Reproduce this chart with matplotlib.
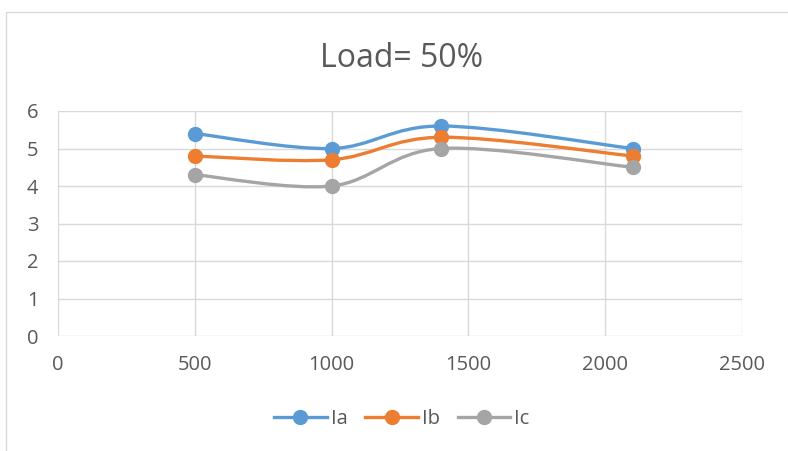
import numpy as np
import matplotlib.pyplot as plt
from matplotlib.path import Path
from matplotlib.patches import PathPatch, Rectangle
from matplotlib.lines import Line2D

plt.rcParams["font.family"] = ["Open Sans", "DejaVu Sans"]

speed = [500, 1000, 1400, 2100]
ia = [5.4, 5.0, 5.6, 5.0]
ib = [4.8, 4.7, 5.3, 4.8]
ic = [4.3, 4.0, 5.0, 4.5]

series = [("Ia", ia, "#5b9bd5"), ("Ib", ib, "#ed7d31"), ("Ic", ic, "#a5a5a5")]
text_col = "#595959"
grid_col = "#d9d9d9"


def smooth_path(x, y):
    # cubic bezier through the points, catmull-rom style control points
    pts = np.column_stack([x, y]).astype(float)
    n = len(pts)
    verts = [pts[0]]
    codes = [Path.MOVETO]
    for i in range(n - 1):
        p0 = pts[max(i - 1, 0)]
        p1 = pts[i]
        p2 = pts[i + 1]
        p3 = pts[min(i + 2, n - 1)]
        c1 = p1 + (p2 - p0) / 6.0
        c2 = p2 - (p3 - p1) / 6.0
        verts += [c1, c2, p2]
        codes += [Path.CURVE4] * 3
    return Path(verts, codes)


fig = plt.figure(figsize=(7.88, 4.51), dpi=100)
ax = fig.add_axes([58 / 788, 115 / 451, 684 / 788, 225 / 451])

for name, vals, col in series:
    ax.add_patch(PathPatch(smooth_path(speed, vals), fill=False, edgecolor=col,
                           lw=2.4, capstyle="round", zorder=3))
    ax.plot(speed, vals, ls="none", marker="o", ms=10, color=col, zorder=4)

ax.set_xlim(0, 2500)
ax.set_ylim(0, 6)
ax.set_xticks(range(0, 2501, 500))
ax.set_yticks(range(0, 7))
ax.grid(True, color=grid_col, lw=1)
ax.set_axisbelow(True)
for s in ax.spines.values():
    s.set_visible(False)
ax.tick_params(length=0, labelsize=14.5, colors=text_col)
ax.tick_params(axis="x", pad=14)
ax.tick_params(axis="y", pad=14)

fig.text(0.51, 0.87, "Load= 50%", ha="center", va="center", fontsize=23, color=text_col)

handles = [Line2D([], [], color=c, lw=2.4, marker="o", ms=10) for _, _, c in series]
fig.legend(handles, [n for n, _, _ in series], loc="center", bbox_to_anchor=(0.51, 0.07),
           ncol=3, frameon=False, fontsize=14.5, labelcolor=text_col,
           handlelength=2.6, handletextpad=0.2, columnspacing=0.9)

fig.add_artist(Rectangle((6 / 788, -0.05), 790 / 788, 1.05 - 12 / 451,
                         transform=fig.transFigure, fill=False, edgecolor=grid_col, lw=1))

fig.savefig("out.png", dpi=100)
